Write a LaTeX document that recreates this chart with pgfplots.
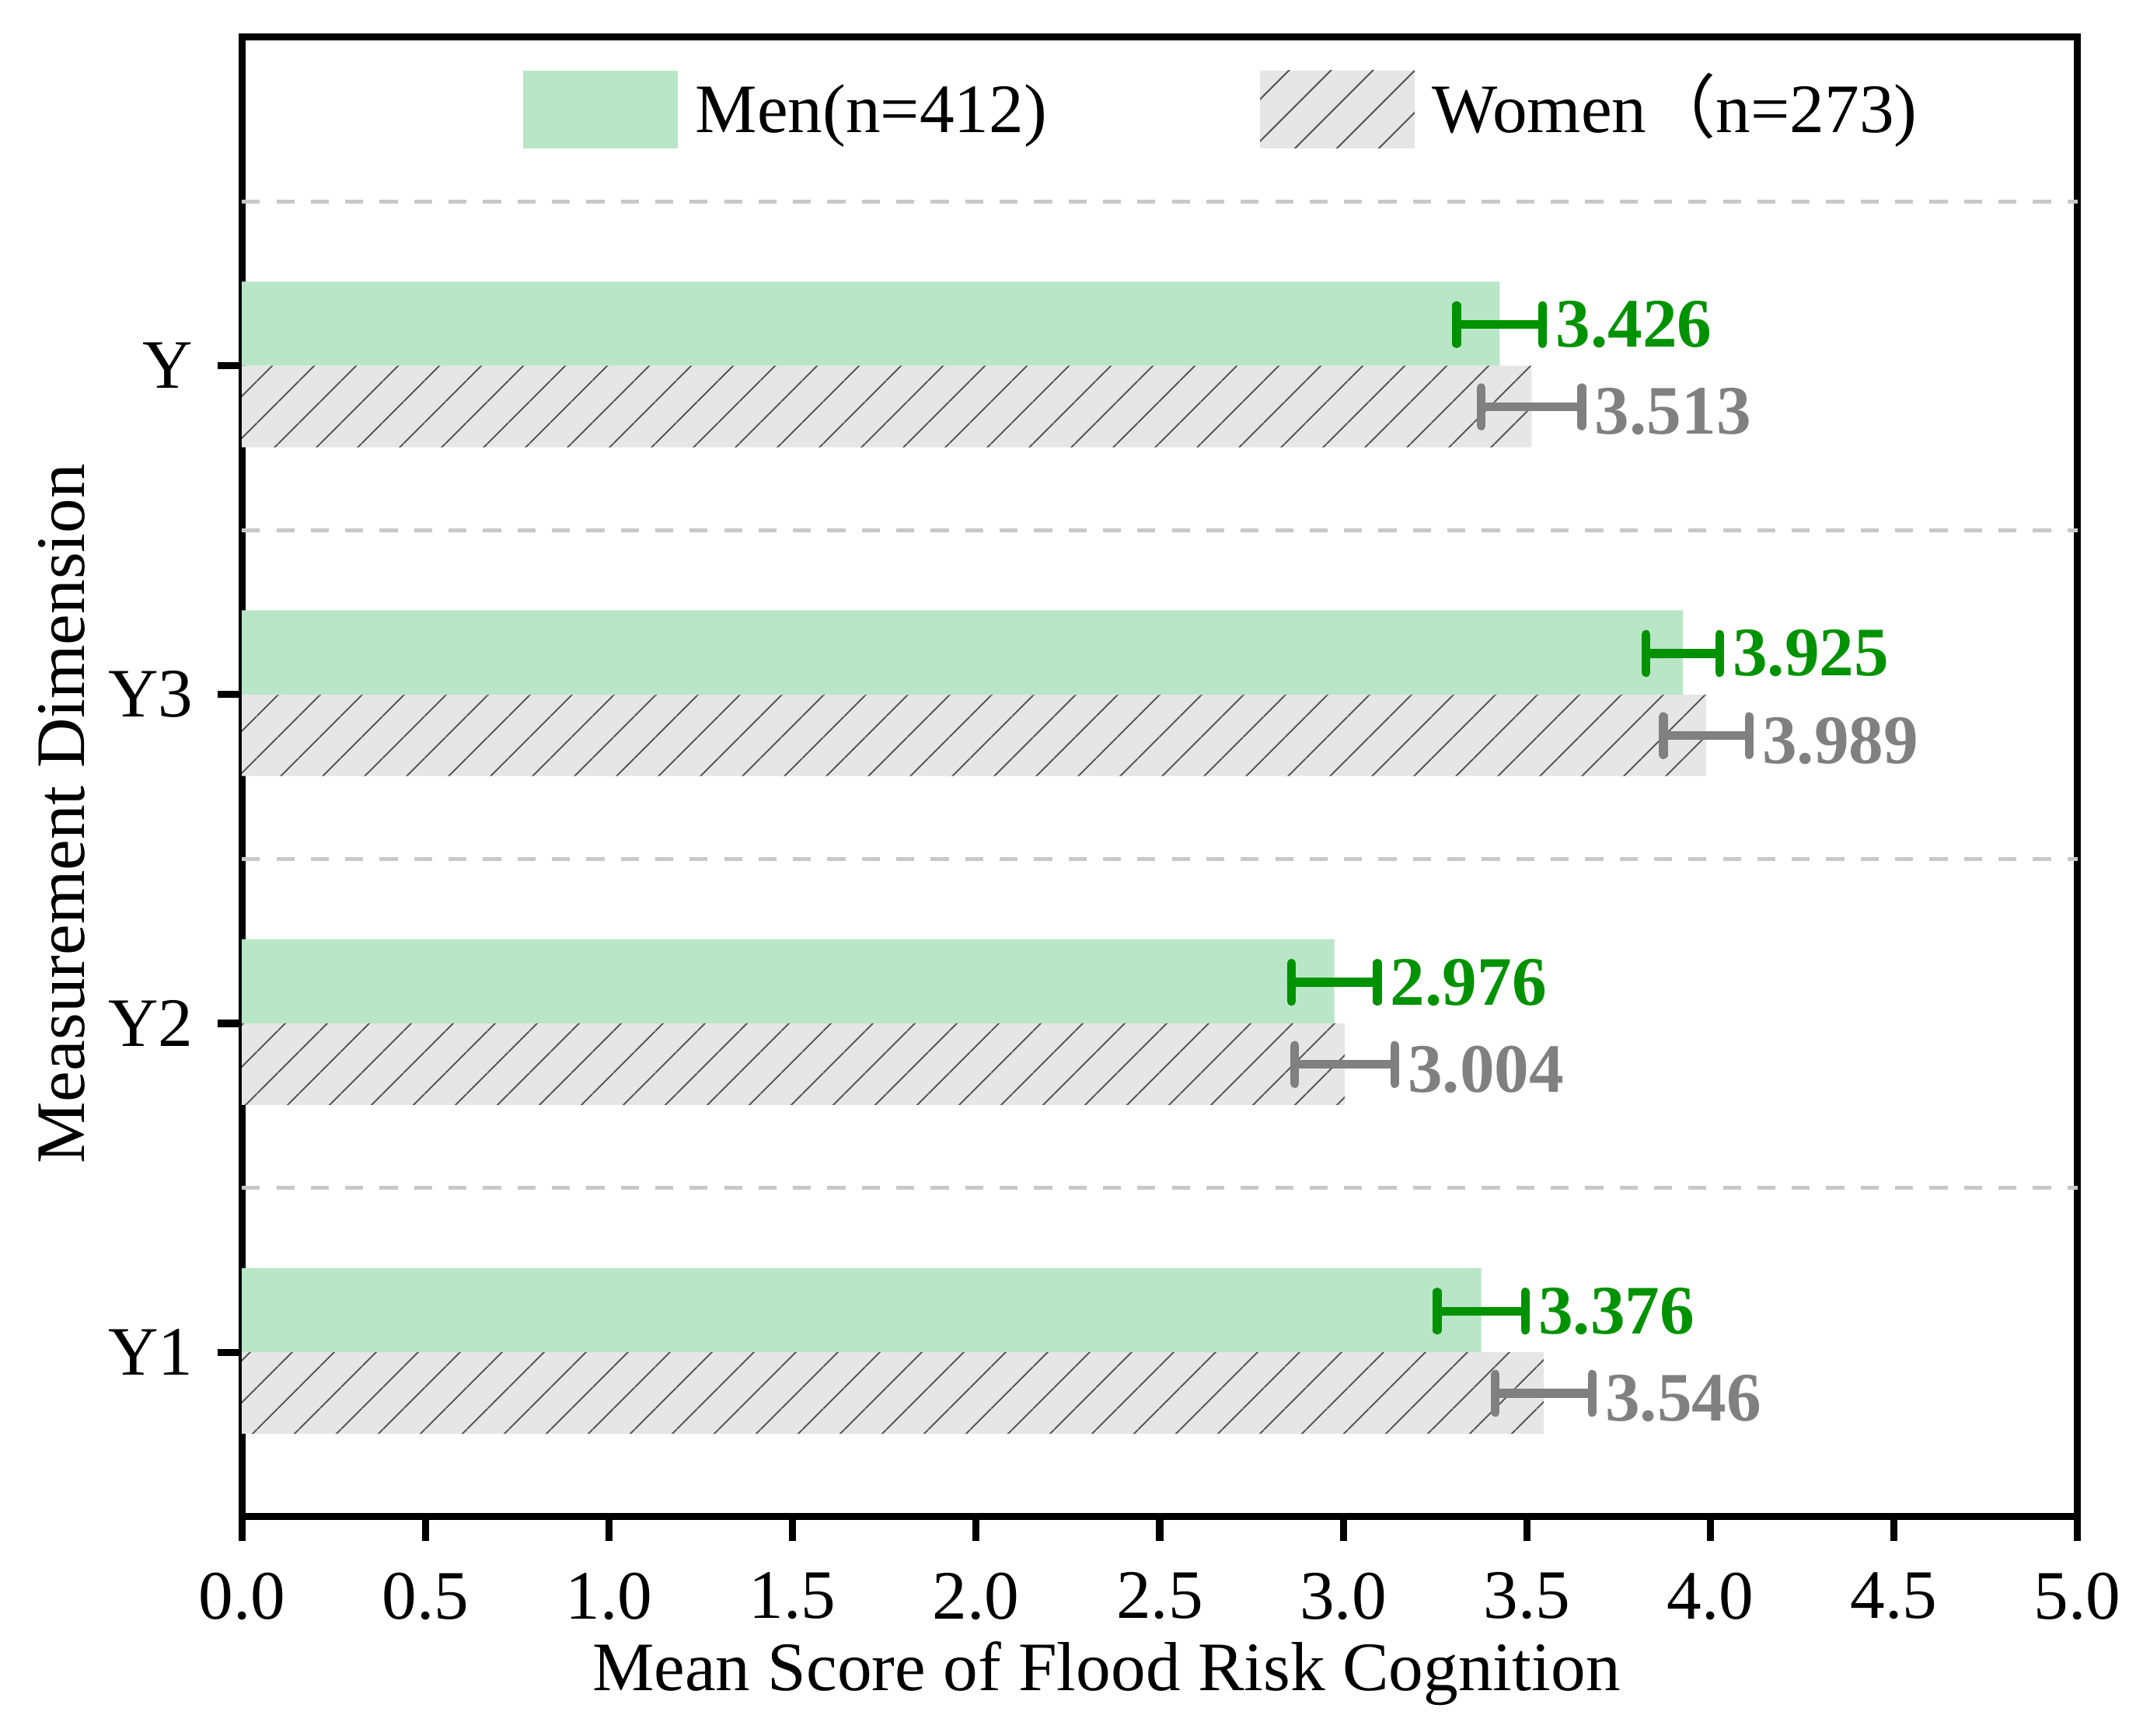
\documentclass[border=0pt]{standalone}
\usepackage{pgfplots}
\pgfplotsset{compat=1.18}
\usepackage{fontspec}
\setmainfont{Liberation Serif}
\newfontfamily\cjk{Noto Sans CJK SC}
\usetikzlibrary{patterns.meta}
\definecolor{menfill}{RGB}{184,230,198}
\definecolor{womenfill}{RGB}{230,230,230}
\definecolor{hatch}{RGB}{95,95,95}
\definecolor{labgreen}{RGB}{0,146,0}
\definecolor{labgray}{RGB}{128,128,128}
\definecolor{gridgray}{RGB}{200,200,200}
\begin{document}
\fontsize{12.7}{15}\selectfont
\begin{tikzpicture}
\begin{axis}[
  scale only axis,
  width=335.75pt, height=270.75pt,
  xmin=0, xmax=5, ymin=-0.5, ymax=4,
  xtick={0,0.5,...,5},
  ytick={0,1,2,3},
  yticklabels={Y1,Y2,Y3,Y},
  xticklabel style={yshift=-1.3pt, /pgf/number format/.cd, fixed, fixed zerofill, precision=1},
  /pgf/number format/assume math mode=true,
  tick align=outside,
  xtick pos=lower, ytick pos=lower,
  major tick length=4.5pt,
  axis line style={line width=1.3pt},
  every tick/.style={black, line width=1.3pt},
  font=\fontsize{12.7}{15}\selectfont,
  xlabel={Mean Score of Flood Risk Cognition},
  ylabel={Measurement Dimension},
  xlabel style={at={(axis description cs:0.471,-0.106)}, anchor=center},
  ylabel style={at={(axis description cs:-0.098,0.475)}, anchor=center},
  extra y ticks={0.5,1.5,2.5,3.5},
  extra y tick labels={},
  extra y tick style={grid=major, major tick length=0pt,
    major grid style={gridgray, line width=0.7pt, dash pattern=on 3.3pt off 3pt}},
  legend columns=2,
  legend style={at={(axis description cs:0.533,0.951)}, anchor=center,
    draw=none, fill=none,
    nodes={inner sep=0pt, anchor=base west},
    /tikz/every odd column/.append style={column sep=3.25pt},
    /tikz/every even column/.append style={column sep=39pt}},
]
\addplot[xbar, bar width=0.256, bar shift=0.128, fill=menfill, draw=none,
  legend image code/.code={\fill[menfill] (0pt,-2.9pt) rectangle (28.25pt,11.3pt);}]
  coordinates {(3.376,0) (2.976,1) (3.925,2) (3.426,3)};
\addlegendentry{Men(n=412)}
\addplot[xbar, bar width=0.248, bar shift=-0.124, fill=womenfill, draw=none,
  postaction={pattern={Lines[angle=45, distance=5.4pt, line width=0.3pt]}, pattern color=hatch},
  legend image code/.code={\fill[womenfill] (0pt,-2.9pt) rectangle (28.25pt,11.3pt);
    \fill[pattern={Lines[angle=45, distance=5.4pt, line width=0.3pt]}, pattern color=hatch] (0pt,-2.9pt) rectangle (28.25pt,11.3pt);}]
  coordinates {(3.546,0) (3.004,1) (3.989,2) (3.513,3)};
\addlegendentry{Women{\cjk （}n=273)}
% error bars
\addplot[forget plot, draw=none, mark=none,
  error bars/.cd, x dir=both, x explicit,
  error bar style={draw=labgreen, line width=1.6pt, line cap=round},
  error mark options={draw=labgreen, line width=1.6pt, line cap=round, mark size=3.5pt, rotate=90}]
  coordinates {(3.376,0.125) +- (0.120,0) (2.976,1.125) +- (0.117,0) (3.925,2.125) +- (0.100,0) (3.426,3.125) +- (0.117,0)};
\addplot[forget plot, draw=none, mark=none,
  error bars/.cd, x dir=both, x explicit,
  error bar style={draw=labgray, line width=1.6pt, line cap=round},
  error mark options={draw=labgray, line width=1.6pt, line cap=round, mark size=3.5pt, rotate=90}]
  coordinates {(3.546,-0.125) +- (0.132,0) (3.004,0.875) +- (0.136,0) (3.989,1.875) +- (0.117,0) (3.513,2.875) +- (0.137,0)};
% value labels
\addplot[forget plot, only marks, mark=*, mark size=0pt, mark options={draw=none, fill=none},
  nodes near coords, point meta=explicit symbolic,
  nodes near coords style={anchor=west, font=\bfseries, text=labgreen, inner sep=0pt, xshift=2.2pt}]
  coordinates {(3.496,0.125)[3.376] (3.093,1.125)[2.976] (4.025,2.125)[3.925] (3.543,3.125)[3.426]};
\addplot[forget plot, only marks, mark=*, mark size=0pt, mark options={draw=none, fill=none},
  nodes near coords, point meta=explicit symbolic,
  nodes near coords style={anchor=west, font=\bfseries, text=labgray, inner sep=0pt, xshift=2.2pt}]
  coordinates {(3.678,-0.14)[3.546] (3.140,0.86)[3.004] (4.106,1.86)[3.989] (3.650,2.86)[3.513]};
\end{axis}
\pgfresetboundingbox
\path ([xshift=-44.25pt,yshift=-40pt]current axis.south west) rectangle ([xshift=12pt,yshift=6.75pt]current axis.north east);
\end{tikzpicture}
\end{document}
